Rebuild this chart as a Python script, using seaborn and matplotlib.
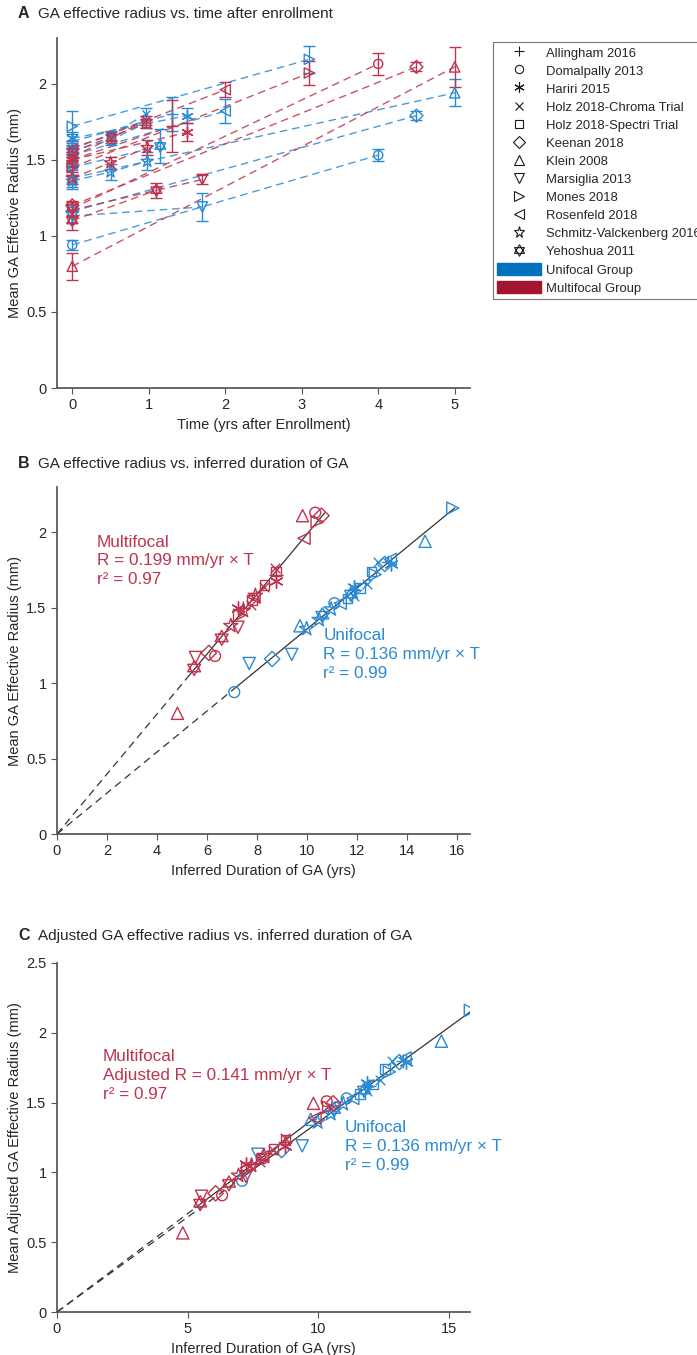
import numpy as np
import pandas as pd
import matplotlib
matplotlib.use("Agg")
import matplotlib.pyplot as plt
from matplotlib.path import Path
from matplotlib.lines import Line2D
from matplotlib.patches import Patch
from matplotlib.ticker import FuncFormatter
import seaborn as sns

# ---------------- data ----------------
studies = ["Allingham 2016", "Domalpally 2013", "Hariri 2015", "Holz 2018-Chroma Trial",
           "Holz 2018-Spectri Trial", "Keenan 2018", "Klein 2008", "Marsiglia 2013",
           "Mones 2018", "Rosenfeld 2018", "Schmitz-Valckenberg 2016", "Yehoshua 2011"]

# Unifocal group: study index, time (yrs), mean radius (mm), error (mm)
uni_study  = [0, 0,   1, 1,   2, 2,   3, 3, 3,   4, 4, 4,   5, 5,   6, 6,   7, 7,   8, 8,   9, 9,   10, 10, 10,   11, 11]
uni_time   = [0, 1.3, 0, 4,   0, 1.5, 0, 0.5, 0.96, 0, 0.5, 0.96, 0, 4.5, 0, 5, 0, 1.7, 0, 3.1, 0, 2,   0, 0.5, 0.98, 0, 1.15]
uni_radius = [1.62, 1.80, 0.94, 1.53, 1.64, 1.79, 1.58, 1.66, 1.80, 1.56, 1.63, 1.74, 1.16, 1.79,
              1.38, 1.94, 1.13, 1.19, 1.72, 2.16, 1.53, 1.82, 1.36, 1.42, 1.49, 1.45, 1.59]
uni_err    = [0.05, 0.11, 0.03, 0.04, 0.04, 0.05, 0.03, 0.03, 0.04, 0.03, 0.03, 0.03, 0.03, 0.03,
              0.07, 0.09, 0.04, 0.09, 0.10, 0.09, 0.05, 0.08, 0.04, 0.05, 0.06, 0.05, 0.11]

# Multifocal group
mul_study  = [0, 0,   1, 1,   2, 2,   3, 3, 3,   4, 4, 4,   5, 5,   6, 6,   7, 7,   8, 8,   9, 9,   10, 10, 10,   11, 11]
mul_time   = [0, 1.3, 0, 4,   0, 1.5, 0, 0.5, 0.96, 0, 0.5, 0.96, 0, 4.5, 0, 5, 0, 1.7, 0, 3.1, 0, 2,   0, 0.5, 0.98, 0, 1.1]
mul_radius = [1.50, 1.72, 1.18, 2.13, 1.50, 1.68, 1.52, 1.64, 1.76, 1.55, 1.65, 1.74, 1.20, 2.11,
              0.80, 2.11, 1.17, 1.37, 1.45, 2.07, 1.57, 1.96, 1.38, 1.48, 1.58, 1.10, 1.30]
mul_err    = [0.05, 0.17, 0.04, 0.07, 0.04, 0.06, 0.03, 0.03, 0.03, 0.03, 0.03, 0.03, 0.03, 0.03,
              0.09, 0.13, 0.04, 0.03, 0.05, 0.08, 0.05, 0.05, 0.04, 0.04, 0.05, 0.06, 0.05]

uni_rate = 0.136
mul_rate = 0.199
mul_adjusted_rate = 0.141
uni_fit_range = [7.1, 15.9]
mul_fit_range = [5.3, 10.7]
mul_adj_fit_range = [5.3, 10.7]

# ---------------- style ----------------
sns.set_theme(style="white")
plt.rcParams["font.family"] = ["Liberation Sans", "DejaVu Sans"]
plt.rcParams["axes.edgecolor"] = "#555555"
plt.rcParams["xtick.color"] = "#555555"
plt.rcParams["ytick.color"] = "#555555"
plt.rcParams["xtick.labelcolor"] = "#262626"
plt.rcParams["ytick.labelcolor"] = "#262626"

BLUE = "#2A8AD4"
RED = "#C0334D"
BLUE_PATCH = "#0072BD"
RED_PATCH = "#A2142F"

hexagram = Path([(0, 1), (-0.866, -0.5), (0.866, -0.5), (0, 1),
                 (0, -1), (0.866, 0.5), (-0.866, 0.5), (0, -1)],
                [Path.MOVETO, Path.LINETO, Path.LINETO, Path.CLOSEPOLY,
                 Path.MOVETO, Path.LINETO, Path.LINETO, Path.CLOSEPOLY])
markers = ["+", "o", (6, 2, 0), "x", "s", "D", "^", "v", ">", "<", "*", hexagram]
unfilled = {0, 2, 3}
msize = [1.0, 0.8, 1.0, 0.7, 0.7, 0.8, 0.9, 0.9, 0.9, 0.9, 1.1, 1.1]

def df_from(study, time, radius, err):
    return pd.DataFrame({"study": study, "time": time, "radius": radius, "err": err})

uni = df_from(uni_study, uni_time, uni_radius, uni_err)
mul = df_from(mul_study, mul_time, mul_radius, mul_err)

# inferred duration: baseline offset estimated from each study's points
def add_duration(df, rate):
    off = (df["radius"] / rate - df["time"]).groupby(df["study"]).transform("mean")
    df["duration"] = df["time"] + off
    return df

uni = add_duration(uni, uni_rate)
mul = add_duration(mul, mul_rate)
mul["adjusted"] = mul["radius"] * mul_adjusted_rate / mul_rate
uni["adjusted"] = uni["radius"]

def scatter(ax, x, y, k, color, base):
    s = base * msize[k] ** 2
    if k in unfilled:
        sns.scatterplot(x=x, y=y, marker=markers[k], s=s, color=color, linewidth=1.0, ax=ax, zorder=4)
    else:
        sns.scatterplot(x=x, y=y, marker=markers[k], s=s, facecolor="none", edgecolor=color,
                        linewidth=1.0, ax=ax, zorder=4)

fmt = FuncFormatter(lambda v, p: ("%g" % v))

W, H = 697, 1355
fig = plt.figure(figsize=(W / 100, H / 100), dpi=100)

def axes_px(l, t, r, b):
    return fig.add_axes([l / W, 1 - b / H, (r - l) / W, (b - t) / H])

axA = axes_px(57, 38, 470, 388)
axB = axes_px(57, 487, 470, 834)
axC = axes_px(57, 963, 470, 1312)

# ---------------- Panel A ----------------
for df, col in [(uni, BLUE), (mul, RED)]:
    for k, g in df.groupby("study"):
        sns.lineplot(x=g["time"].values, y=g["radius"].values, ax=axA, color=col, lw=1.0,
                     alpha=0.85, estimator=None, sort=False, dashes=False, zorder=2)
        axA.lines[-1].set_dashes((5.5, 3.5))
        axA.errorbar(g["time"], g["radius"], yerr=g["err"], fmt="none", ecolor=col,
                     elinewidth=1.0, capsize=4, capthick=1.0, zorder=3)
        scatter(axA, g["time"].values, g["radius"].values, k, col, 68)

axA.set_xlim(-0.2, 5.2)
axA.set_ylim(0, 2.3)
axA.set_xticks(range(0, 6))
axA.set_yticks([0, 0.5, 1, 1.5, 2])
axA.set_xlabel("Time (yrs after Enrollment)", fontsize=10.5, color="#262626")
axA.set_ylabel("Mean GA Effective Radius (mm)", fontsize=10.5, color="#262626")

# ---------------- Panel B ----------------
def fit_lines(ax, rate, rng):
    xs = np.array([0, rng[0]])
    sns.lineplot(x=xs, y=rate * xs, ax=ax, color="#333333", lw=0.9, estimator=None)
    ax.lines[-1].set_dashes((6, 4))
    xs2 = np.array(rng)
    sns.lineplot(x=xs2, y=rate * xs2, ax=ax, color="#333333", lw=0.9, estimator=None)

fit_lines(axB, mul_rate, mul_fit_range)
fit_lines(axB, uni_rate, uni_fit_range)
for df, col in [(uni, BLUE), (mul, RED)]:
    for k, g in df.groupby("study"):
        scatter(axB, g["duration"].values, g["radius"].values, k, col, 95)

axB.set_xlim(0, 16.5)
axB.set_ylim(0, 2.3)
axB.set_xticks(range(0, 17, 2))
axB.set_yticks([0, 0.5, 1, 1.5, 2])
axB.set_xlabel("Inferred Duration of GA (yrs)", fontsize=10.5, color="#262626")
axB.set_ylabel("Mean GA Effective Radius (mm)", fontsize=10.5, color="#262626")
axB.text(1.6, 1.985, "Multifocal\nR = %.3f mm/yr × T\nr² = 0.97" % mul_rate, color=RED,
         fontsize=12.3, va="top", ha="left", linespacing=1.32)
axB.text(10.64, 1.365, "Unifocal\nR = %.3f mm/yr × T\nr² = 0.99" % uni_rate, color=BLUE,
         fontsize=12.3, va="top", ha="left", linespacing=1.32)

# ---------------- Panel C ----------------
fit_lines(axC, mul_adjusted_rate, mul_adj_fit_range)
fit_lines(axC, uni_rate, uni_fit_range)
for df, col in [(uni, BLUE), (mul, RED)]:
    for k, g in df.groupby("study"):
        scatter(axC, g["duration"].values, g["adjusted"].values, k, col, 95)

axC.set_xlim(0, 15.8)
axC.set_ylim(0, 2.5)
axC.set_xticks([0, 5, 10, 15])
axC.set_yticks([0, 0.5, 1, 1.5, 2, 2.5])
axC.set_xlabel("Inferred Duration of GA (yrs)", fontsize=10.5, color="#262626")
axC.set_ylabel("Mean Adjusted GA Effective Radius (mm)", fontsize=10.5, color="#262626")
axC.text(1.76, 1.885, "Multifocal\nAdjusted R = %.3f mm/yr × T\nr² = 0.97" % mul_adjusted_rate,
         color=RED, fontsize=12.3, va="top", ha="left", linespacing=1.32)
axC.text(11.0, 1.375, "Unifocal\nR = %.3f mm/yr × T\nr² = 0.99" % uni_rate, color=BLUE,
         fontsize=12.3, va="top", ha="left", linespacing=1.32)

for ax in (axA, axB, axC):
    sns.despine(ax=ax)
    ax.tick_params(axis="both", direction="out", length=4, width=0.8, labelsize=10.5,
                   bottom=True, left=True)
    ax.xaxis.set_major_formatter(fmt)
    ax.yaxis.set_major_formatter(fmt)
    ax.yaxis.labelpad = 3
    ax.set_facecolor("white")

# panel titles
for y, letter, title in [(14, "A", "GA effective radius vs. time after enrollment"),
                         (464, "B", "GA effective radius vs. inferred duration of GA"),
                         (936, "C", "Adjusted GA effective radius vs. inferred duration of GA")]:
    fig.text(18 / W, 1 - y / H, letter, fontsize=11.5, fontweight="bold", va="center", ha="left")
    fig.text(38 / W, 1 - y / H, title, fontsize=11, va="center", ha="left")

# legend
handles = []
for k, name in enumerate(studies):
    handles.append(Line2D([], [], linestyle="none", marker=markers[k], color="k",
                          mfc="none", mew=0.8, ms=7.5 * msize[k], label=name))
handles.append(Patch(facecolor=BLUE_PATCH, edgecolor=BLUE_PATCH, label="Unifocal Group"))
handles.append(Patch(facecolor=RED_PATCH, edgecolor=RED_PATCH, label="Multifocal Group"))
leg = fig.legend(handles=handles, loc="upper left", bbox_to_anchor=(493 / W, 1 - 42 / H),
                 frameon=True, fancybox=False, edgecolor="#555555", fontsize=9.4,
                 handlelength=3.4, handleheight=1.1, labelspacing=0.335, borderpad=0.3,
                 handletextpad=0.35, borderaxespad=0)
leg.get_frame().set_linewidth(0.8)

fig.savefig("out.png", dpi=100, facecolor="white")
